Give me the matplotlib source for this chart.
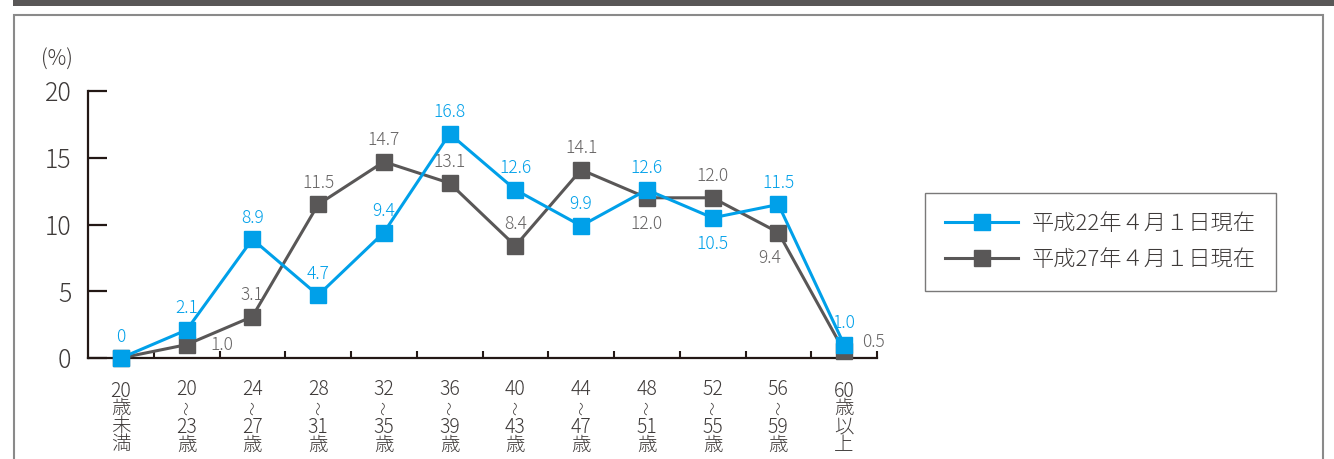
import matplotlib.pyplot as plt
from matplotlib.patches import Rectangle

plt.rcParams['font.family'] = ['Noto Sans CJK JP', 'DejaVu Sans']
plt.rcParams['font.weight'] = 'light'

# x labels are written top to bottom, one item per line ("～" is drawn upright)
categories = [['20', '歳', '未', '満'], ['20', '～', '23', '歳'], ['24', '～', '27', '歳'],
              ['28', '～', '31', '歳'], ['32', '～', '35', '歳'], ['36', '～', '39', '歳'],
              ['40', '～', '43', '歳'], ['44', '～', '47', '歳'], ['48', '～', '51', '歳'],
              ['52', '～', '55', '歳'], ['56', '～', '59', '歳'], ['60', '歳', '以', '上']]
h22 = [0, 2.1, 8.9, 4.7, 9.4, 16.8, 12.6, 9.9, 12.6, 10.5, 11.5, 1.0]
h27 = [0, 1.0, 3.1, 11.5, 14.7, 13.1, 8.4, 14.1, 12.0, 12.0, 9.4, 0.5]
h22_labels = ['0', '2.1', '8.9', '4.7', '9.4', '16.8', '12.6', '9.9', '12.6', '10.5', '11.5', '1.0']
h27_labels = ['', '1.0', '3.1', '11.5', '14.7', '13.1', '8.4', '14.1', '12.0', '12.0', '9.4', '0.5']
series_names = ['平成22年４月１日現在', '平成27年４月１日現在']

blue = '#00a0e9'
gray = '#595757'
axis_col = '#231815'
text_col = '#3e3a39'

fig = plt.figure(figsize=(13.34, 4.59), dpi=100)
W, H = 1334, 459

# top dark bar and outer frame
fig.patches.append(Rectangle((13 / W, 1 - 6 / H), 1, 6 / H, transform=fig.transFigure,
                             facecolor=gray, edgecolor='none'))
fig.patches.append(Rectangle((14 / W, -0.1), (1323 - 14) / W, 1.1 - 15 / H, transform=fig.transFigure,
                             facecolor='none', edgecolor='#8a8a8a', linewidth=1.5))

ax = fig.add_axes([88 / W, 1 - 358 / H, (877 - 88) / W, (358 - 91) / H])
x = list(range(len(categories)))

l27, = ax.plot(x, h27, color=gray, lw=2.2, marker='s', ms=12, mec=gray, mfc=gray,
               clip_on=False, zorder=3, label=series_names[1])
l22, = ax.plot(x, h22, color=blue, lw=2.2, marker='s', ms=12, mec=blue, mfc=blue,
               clip_on=False, zorder=4, label=series_names[0])

# label offsets in points
off22 = [(0, 9)] * 12
off22[9] = (0, -25)
off27 = [(0, 9)] * 12
off27[1] = (25, -7)
off27[8] = (0, -25)
off27[10] = (-6, -25)
off27[11] = (21, 0)

for i in x:
    ax.annotate(h22_labels[i], (i, h22[i]), xytext=off22[i], textcoords='offset points',
                ha='center', va='bottom', color=blue, fontsize=12.5, zorder=5)
    if h27_labels[i]:
        ax.annotate(h27_labels[i], (i, h27[i]), xytext=off27[i], textcoords='offset points',
                    ha='center', va='bottom', color='#666464', fontsize=12.5, zorder=5)

ax.set_xlim(-0.5, 11.5)
ax.set_ylim(0, 20)
ax.set_yticks([0, 5, 10, 15, 20])
ax.set_xticks(x)
ax.set_xticklabels([''] * len(x))
ax.set_xticks([i + 0.5 for i in x], minor=True)
ax.tick_params(axis='x', which='major', length=0)
ax.tick_params(axis='x', which='minor', direction='in', length=5, width=1.5, color=axis_col)
ax.tick_params(axis='y', direction='in', length=14, width=1.6, color=axis_col,
               labelsize=18, labelcolor=text_col, pad=12)
for s in ['top', 'right']:
    ax.spines[s].set_visible(False)
for s in ['left', 'bottom']:
    ax.spines[s].set_color(axis_col)
    ax.spines[s].set_linewidth(1.6)

# stacked category labels
xt = ax.get_xaxis_transform()
lab = dict(xycoords=xt, textcoords='offset points', ha='center', va='center',
           color=text_col, annotation_clip=False)
for i in x:
    parts = categories[i]
    if parts[1] == '～':
        ax.annotate(parts[0], (i, 0), xytext=(0, -23), fontsize=14, **lab)
        ax.annotate(parts[1], (i, 0), xytext=(0, -36), rotation=90, fontsize=10, **lab)
        ax.annotate('\n'.join(parts[2:]), (i, 0), xytext=(0, -56.5), fontsize=14,
                    linespacing=0.8, **lab)
    else:
        ax.annotate('\n'.join(parts), (i, 0), xytext=(0, -43), fontsize=14,
                    linespacing=0.8, **lab)

fig.text(57 / W, 1 - 60 / H, '(%)', ha='center', va='center', fontsize=15, color=text_col)

leg = fig.legend(handles=[l22, l27], labels=series_names, loc='upper left',
                 bbox_to_anchor=(925 / W, 1 - 193 / H), fancybox=False, frameon=True,
                 edgecolor='#595757', fontsize=16, handlelength=3.3, handletextpad=0.6,
                 borderpad=0.9, labelspacing=0.62, borderaxespad=0)
leg.get_frame().set_linewidth(1.0)
for t in leg.get_texts():
    t.set_color(text_col)

fig.savefig('out.png', dpi=100)
